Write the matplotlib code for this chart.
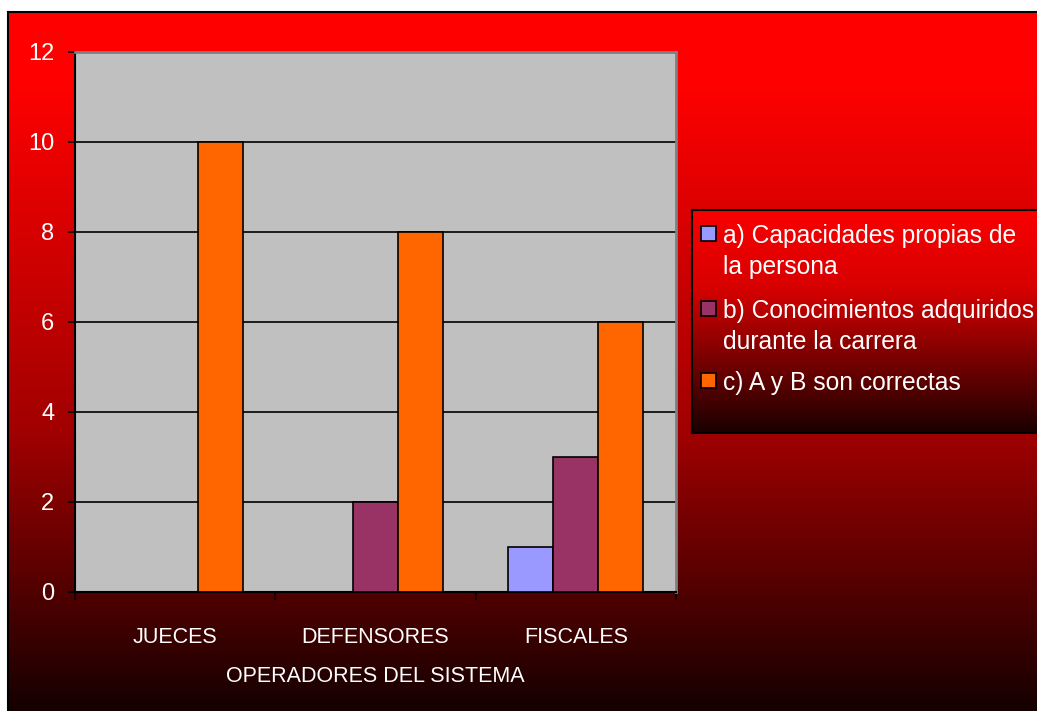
import matplotlib.pyplot as plt
from matplotlib.patches import Rectangle
import numpy as np

W, H = 1037, 711

categories = ['JUECES', 'DEFENSORES', 'FISCALES']
series_names = ['a) Capacidades propias de\nla persona',
                'b) Conocimientos adquiridos\ndurante la carrera',
                'c) A y B son correctas']
capacidades = [0, 0, 1]
conocimientos = [0, 2, 3]
ambas = [10, 8, 6]
colors = ['#9999FF', '#993366', '#FF6600']

plt.rcParams['font.family'] = ['Liberation Sans', 'DejaVu Sans']

fig = plt.figure(figsize=(W / 100, H / 100), dpi=100)
fig.patch.set_facecolor('white')


def px_axes(x0, y0, x1, y1, **kw):
    # figure axes from pixel box (top-left origin)
    return fig.add_axes([x0 / W, (H - y1) / H, (x1 - x0) / W, (y1 - y0) / H], **kw)


def red_gradient(stops):
    ys = np.linspace(0, 1, 400)
    pos = [s[0] for s in stops]
    val = [s[1] for s in stops]
    img = np.zeros((400, 1, 3))
    img[:, 0, 0] = np.interp(ys, pos, val) / 255.0
    return img


# chart area background
bg = px_axes(8, 12, W + 5, 716)
bg.imshow(red_gradient([(0, 255), (0.1, 255), (0.6, 160), (0.84, 75), (1, 18)]),
          aspect='auto', extent=[0, 1, 1, 0])
bg.set_xticks([])
bg.set_yticks([])
for s in bg.spines.values():
    s.set_color('black')
    s.set_linewidth(1.5)
bg.set_zorder(-5)

# plot area
ax = px_axes(75, 52, 676, 592)
ax.set_facecolor('#C0C0C0')
x = np.arange(len(categories))
w = 0.225
for i, vals in enumerate([capacidades, conocimientos, ambas]):
    ax.bar(x + (i - 1) * w, vals, width=w, color=colors[i], edgecolor='black',
           linewidth=1.2, zorder=3)

ax.set_xlim(-0.5, 2.5)
ax.set_ylim(0, 12)
ax.set_yticks(np.arange(0, 13, 2))
ax.grid(axis='y', color='black', linewidth=1.2, zorder=1)
ax.set_axisbelow(True)

ax.set_xticks([-0.5, 0.5, 1.5, 2.5])
ax.set_xticklabels([])
ax.set_xticks(x, minor=True)
ax.set_xticklabels(categories, minor=True, fontsize=15.5, color='white')
ax.tick_params(axis='x', which='major', direction='out', length=6, width=1.2, color='black')
ax.tick_params(axis='x', which='minor', length=0, pad=25)
ax.tick_params(axis='y', direction='out', length=5, width=1.2, color='black',
               labelsize=17, labelcolor='white', pad=10)
ax.set_xlabel('OPERADORES DEL SISTEMA', fontsize=15.5, color='white', labelpad=13)

for side in ['left', 'bottom']:
    ax.spines[side].set_color('black')
    ax.spines[side].set_linewidth(1.5)
for side in ['top', 'right']:
    ax.spines[side].set_color('#7f7f7f')
    ax.spines[side].set_linewidth(2)

# legend box with its own gradient
lg = px_axes(692, 210, W + 5, 433)
lg.imshow(red_gradient([(0, 250), (0.35, 215), (1, 25)]),
          aspect='auto', extent=[0, 1, 1, 0])
lg.set_xticks([])
lg.set_yticks([])
for s in lg.spines.values():
    s.set_color('black')
    s.set_linewidth(1.5)

# legend entries: handle aligned with first line of each label
entry_base = [243, 318, 390]   # baseline of first line, px from top
line_step = 31
for name, col, yb in zip(series_names, colors, entry_base):
    fig.patches.append(Rectangle((701 / W, (H - yb + 2) / H), 15 / W, 15 / H,
                                 transform=fig.transFigure, facecolor=col,
                                 edgecolor='black', linewidth=1.2, zorder=5))
    for k, line in enumerate(name.split('\n')):
        fig.text(723 / W, (H - yb - k * line_step) / H, line, fontsize=17.7,
                 color='white', ha='left', va='baseline')

fig.savefig('out.png', dpi=100, facecolor=fig.get_facecolor())
